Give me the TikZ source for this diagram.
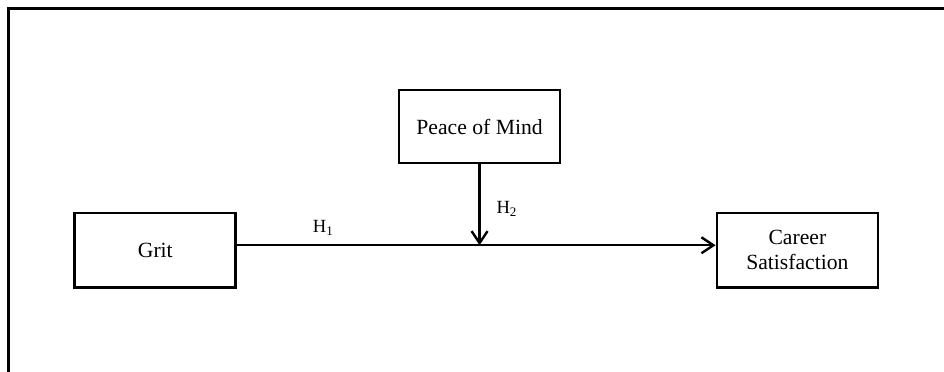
\documentclass[tikz,border=0pt]{standalone}
\usepackage{fontspec}
\setmainfont{Liberation Serif}
\usetikzlibrary{arrows.meta}

\tikzset{
  varbox/.style={draw, line width=2pt, minimum width=4.26cm,
    minimum height=1.96cm, align=center,
    font=\fontsize{16.3}{19}\selectfont},
  hlabel/.style={font=\fontsize{14}{16}\selectfont},
  link/.style={line width=1.8pt,
    -{Straight Barb[length=9pt, width=12pt, line width=1.8pt]}}
}

\begin{document}
\begin{tikzpicture}
  \useasboundingbox (0,0) rectangle (24.98, 9.82);
  % frame (left and top edges only)
  \draw[line width=2.6pt] (0.225, -0.5) -- (0.225, 9.60) -- (25.5, 9.60);

  % variables
  \node[varbox] (grit)   at (4.11, 3.20)  {Grit};
  \node[varbox] (career) at (21.10, 3.20) {Career\\Satisfaction};
  \node[varbox, minimum height=1.93cm] (peace) at (12.69, 6.47) {Peace of Mind};

  % H1: direct path
  \draw[link] ([yshift=0.13cm]grit.east)
    -- node[hlabel, pos=0.18, above=3pt] {H\textsubscript{1}}
    ([yshift=0.13cm]career.west);

  % H2: moderation
  \coordinate (meet) at ([yshift=0.13cm]grit.east -| peace.south);
  \draw[link] (peace.south)
    -- node[hlabel, pos=0.55, right=0.3cm] {H\textsubscript{2}} (meet);
\end{tikzpicture}
\end{document}
